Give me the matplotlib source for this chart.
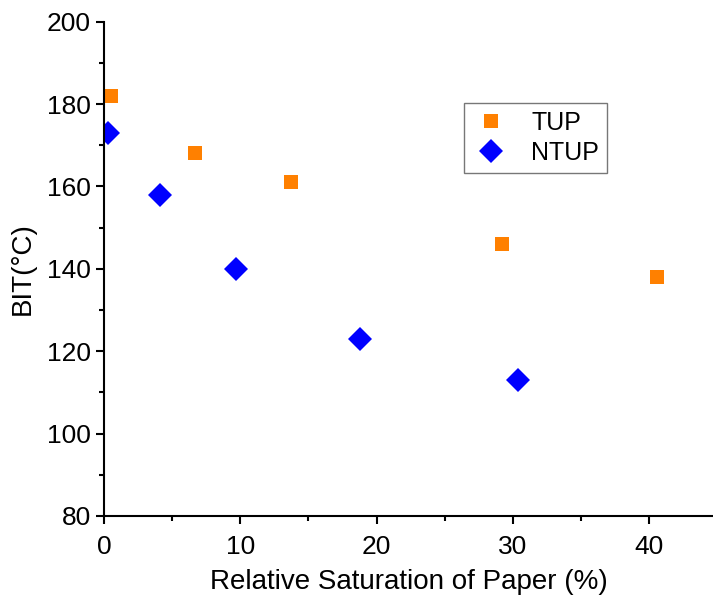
import matplotlib.pyplot as plt
from matplotlib.ticker import MultipleLocator

plt.rcParams['font.family'] = ['Liberation Sans', 'DejaVu Sans']

# data
tup_x = [0.5, 6.7, 13.7, 29.2, 40.6]
tup_y = [182, 168, 161, 146, 138]
ntup_x = [0.3, 4.1, 9.7, 18.75, 30.4]
ntup_y = [173, 158, 140, 123, 113]

fig = plt.figure(figsize=(7.13, 6.02), dpi=100)
ax = fig.add_axes([0.146, 0.143, 0.854, 0.821])

ax.plot(tup_x, tup_y, linestyle='none', marker='s', markersize=10.5,
        color='#ff8000', markeredgewidth=0, label='TUP')
ax.plot(ntup_x, ntup_y, linestyle='none', marker='D', markersize=12,
        color='#0000ff', markeredgewidth=0, label='NTUP')

ax.set_xlim(0, 44.7)
ax.set_ylim(80, 200)
ax.xaxis.set_major_locator(MultipleLocator(10))
ax.xaxis.set_minor_locator(MultipleLocator(5))
ax.yaxis.set_major_locator(MultipleLocator(20))
ax.yaxis.set_minor_locator(MultipleLocator(10))

for side in ['top', 'right']:
    ax.spines[side].set_visible(False)
for side in ['left', 'bottom']:
    ax.spines[side].set_linewidth(1.5)

ax.tick_params(which='major', direction='out', length=6, width=1.5, labelsize=19)
ax.tick_params(which='major', axis='x', pad=8)
ax.tick_params(which='minor', direction='out', length=3.5, width=1.5)

ax.set_xlabel('Relative Saturation of Paper (%)', fontsize=20, labelpad=7)
ax.set_ylabel('BIT(°C)', fontsize=20, labelpad=8)

leg = ax.legend(loc='upper left', bbox_to_anchor=(0.57, 0.86), fontsize=18,
                frameon=True, fancybox=False, edgecolor='#555555',
                handletextpad=0.8, borderpad=0.3, labelspacing=0.25,
                handlelength=1.6)
leg.get_frame().set_linewidth(1.0)

fig.savefig('out.png', dpi=100)
